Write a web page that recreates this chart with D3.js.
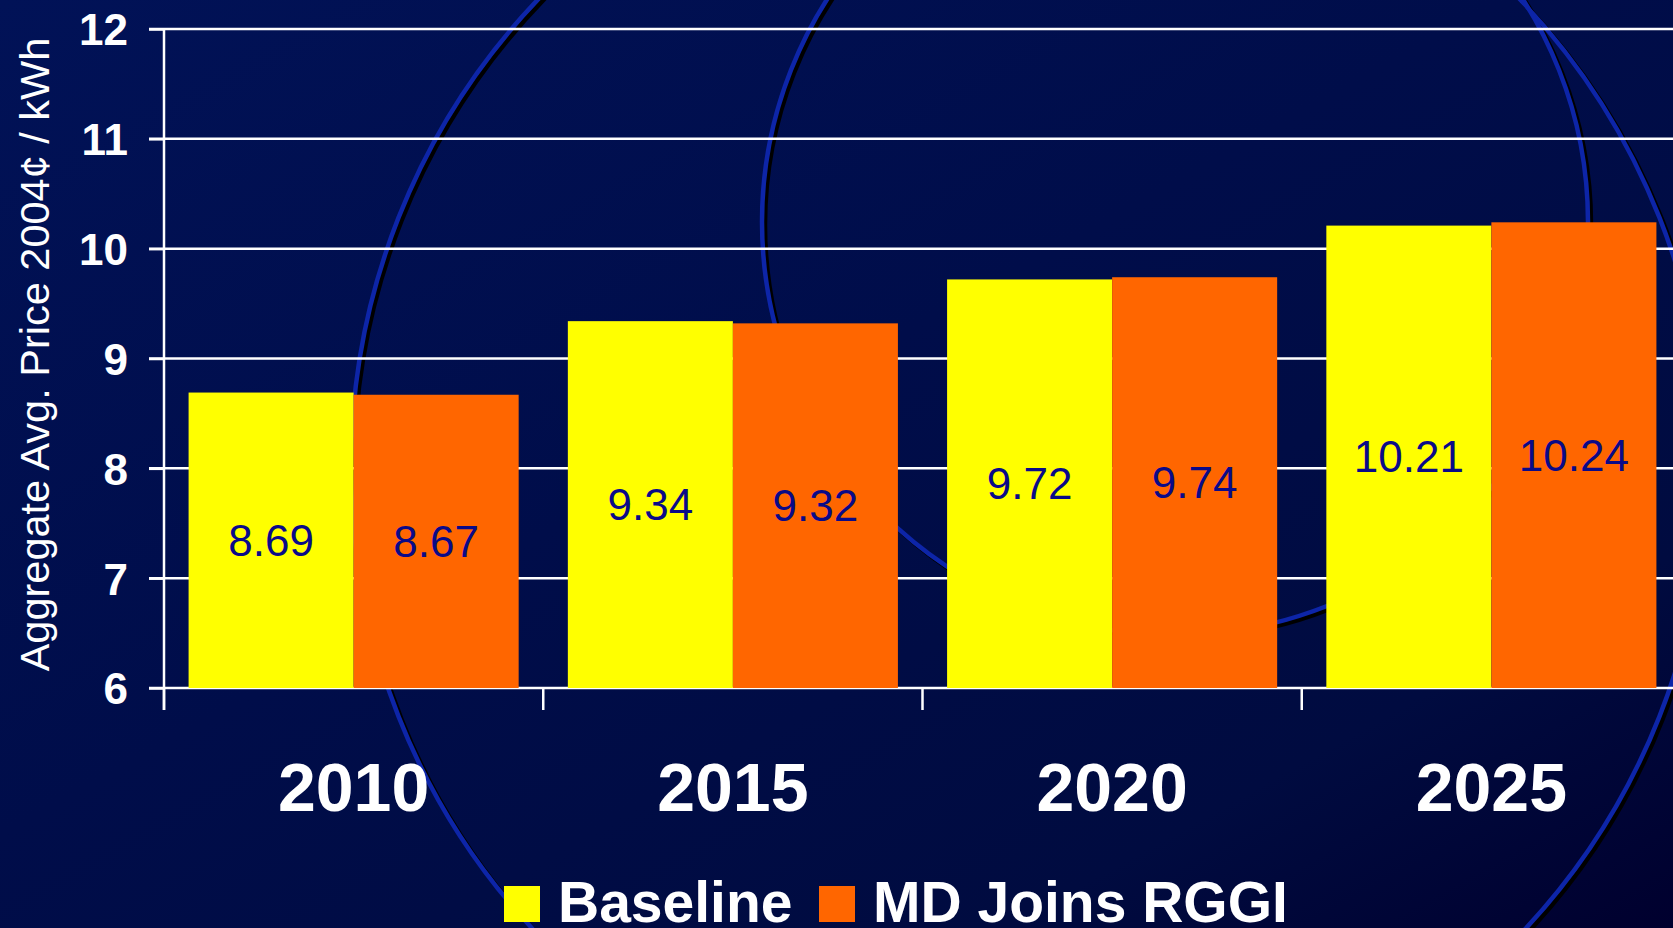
<!DOCTYPE html>
<html>
<head>
<meta charset="utf-8">
<script src="https://cdn.jsdelivr.net/npm/d3@7"></script>
<style>
  body { margin: 0; background: #000c45; overflow: hidden; }
  text { font-family: "Liberation Sans", Arial, sans-serif; }
</style>
</head>
<body>
<div id="my_dataviz"></div>
<script>
'use-strict'

// Chart data
var years = ["2010", "2015", "2020", "2025"]
var seriesNames = ["Baseline", "MD Joins RGGI"]
var baseline = [8.69, 9.34, 9.72, 10.21]
var mdJoinsRggi = [8.67, 9.32, 9.74, 10.24]
var yTicks = [6, 7, 8, 9, 10, 11, 12]
var colors = ["#ffff00", "#ff6600"]

var width = 1673
var height = 928
var margin = {left: 164, top: 29, bottom: 240, right: -8}

const svg = d3.select("#my_dataviz")
              .append("svg")
              .attr("width", width)
              .attr("height", height)

// 1. Background: slide gradient and the two decorative rings
var defs = svg.append("defs")
var grad = defs.append("linearGradient")
               .attr("id", "bg")
               .attr("x1", 0).attr("y1", 0)
               .attr("x2", 1).attr("y2", 1)
grad.append("stop").attr("offset", "0%").attr("stop-color", "#011257")
grad.append("stop").attr("offset", "45%").attr("stop-color", "#000d4a")
grad.append("stop").attr("offset", "80%").attr("stop-color", "#000b40")
grad.append("stop").attr("offset", "100%").attr("stop-color", "#00002e")

svg.append("rect")
   .attr("width", width)
   .attr("height", height)
   .attr("fill", "url(#bg)")

var rings = [{cx: 1029, cy: 467, r: 678}, {cx: 1175, cy: 222, r: 413}]

svg.selectAll("ringShadow")
   .data(rings)
   .enter()
   .append("circle")
   .attr("cx", (d) => d.cx + 3)
   .attr("cy", (d) => d.cy + 3)
   .attr("r", (d) => d.r)
   .attr("fill", "none")
   .attr("stroke", "#000000")
   .attr("stroke-width", 4.5)

svg.selectAll("ring")
   .data(rings)
   .enter()
   .append("circle")
   .attr("cx", (d) => d.cx)
   .attr("cy", (d) => d.cy)
   .attr("r", (d) => d.r)
   .attr("fill", "none")
   .attr("stroke", "#0d25a8")
   .attr("stroke-width", 4.5)

// 2. Scales
var xScale = d3.scaleBand()
               .domain(years)
               .range([margin.left, width - margin.right])

var xSub = d3.scaleBand()
             .domain(seriesNames)
             .range([0, xScale.bandwidth()])
             .paddingOuter(0.149)

var yScale = d3.scaleLinear()
               .domain([6, 12])
               .range([height - margin.bottom, margin.top])

var rows = years.map((y, i) => ({year: y, values: [baseline[i], mdJoinsRggi[i]]}))

// 3. Gridlines (behind the bars)
svg.selectAll("gridLines")
   .data(yTicks)
   .enter()
   .append("line")
   .attr("x1", margin.left - 15)
   .attr("x2", width)
   .attr("y1", (d) => yScale(d))
   .attr("y2", (d) => yScale(d))
   .attr("stroke", "#ffffff")
   .attr("stroke-width", 2.5)

// 4. Bars
var groups = svg.selectAll("barGroups")
                .data(rows)
                .enter()
                .append("g")
                .attr("transform", (d) => "translate(" + xScale(d.year) + ",0)")

groups.selectAll("rect")
      .data((d) => d.values.map((v, i) => ({name: seriesNames[i], value: v, i: i})))
      .enter()
      .append("rect")
      .attr("x", (d) => xSub(d.name))
      .attr("width", xSub.bandwidth())
      .attr("y", (d) => yScale(d.value))
      .attr("height", (d) => yScale(6) - yScale(d.value))
      .attr("fill", (d) => colors[d.i])

groups.selectAll("valueLabels")
      .data((d) => d.values.map((v, i) => ({name: seriesNames[i], value: v})))
      .enter()
      .append("text")
      .attr("x", (d) => xSub(d.name) + xSub.bandwidth() / 2)
      .attr("y", (d) => (yScale(d.value) + yScale(6)) / 2 + 15.5)
      .attr("text-anchor", "middle")
      .attr("fill", "#0a0a88")
      .style("font-size", "44px")
      .text((d) => d3.format(".2f")(d.value))

// 5. Axes
var yAxis = d3.axisLeft(yScale)
              .tickValues(yTicks)
              .tickFormat(d3.format("d"))
              .tickSize(15)
              .tickSizeOuter(0)
              .tickPadding(21)

var yAxisG = svg.append("g")
                .attr("transform", "translate(" + margin.left + ",0)")
                .call(yAxis)
yAxisG.select(".domain").remove()
yAxisG.selectAll("line").attr("stroke", "#ffffff").attr("stroke-width", 2.5)
yAxisG.selectAll("text")
      .attr("fill", "#ffffff")
      .attr("dy", "0.36em")
      .style("font-size", "44px")
      .style("font-weight", "bold")
      .style("font-family", "'Liberation Sans', Arial, sans-serif")

// vertical axis line, running down to the first category tick
svg.append("line")
   .attr("x1", margin.left).attr("x2", margin.left)
   .attr("y1", yScale(12)).attr("y2", yScale(6) + 22)
   .attr("stroke", "#ffffff")
   .attr("stroke-width", 2.5)

// category boundary ticks
svg.selectAll("xTicks")
   .data(years)
   .enter()
   .append("line")
   .attr("x1", (d) => xScale(d))
   .attr("x2", (d) => xScale(d))
   .attr("y1", yScale(6))
   .attr("y2", yScale(6) + 22)
   .attr("stroke", "#ffffff")
   .attr("stroke-width", 2.5)

var xAxis = d3.axisBottom(xScale).tickSize(0).tickPadding(0)
var xAxisG = svg.append("g")
                .attr("transform", "translate(0," + yScale(6) + ")")
                .call(xAxis)
xAxisG.select(".domain").remove()
xAxisG.selectAll("text")
      .attr("y", 123)
      .attr("dy", null)
      .attr("fill", "#ffffff")
      .style("font-size", "68px")
      .style("font-weight", "bold")
      .style("font-family", "'Liberation Sans', Arial, sans-serif")

// 6. Axis title and legend
svg.append("text")
   .attr("transform", "translate(49," + ((yScale(12) + yScale(6)) / 2 - 4) + ") rotate(-90)")
   .attr("text-anchor", "middle")
   .attr("fill", "#ffffff")
   .style("font-size", "41.5px")
   .text("Aggregate Avg. Price 2004\u00a2 / kWh")

var legendX = [504, 819]
svg.selectAll("legendSymbols")
   .data(seriesNames)
   .enter()
   .append("rect")
   .attr("x", (d, i) => legendX[i])
   .attr("y", 886)
   .attr("width", 36)
   .attr("height", 36)
   .attr("fill", (d, i) => colors[i])

svg.selectAll("legendTexts")
   .data(seriesNames)
   .enter()
   .append("text")
   .attr("x", (d, i) => legendX[i] + 54)
   .attr("y", 922)
   .attr("fill", "#ffffff")
   .style("font-size", "57px")
   .style("font-weight", "bold")
   .text((d) => d)
</script>
</body>
</html>
